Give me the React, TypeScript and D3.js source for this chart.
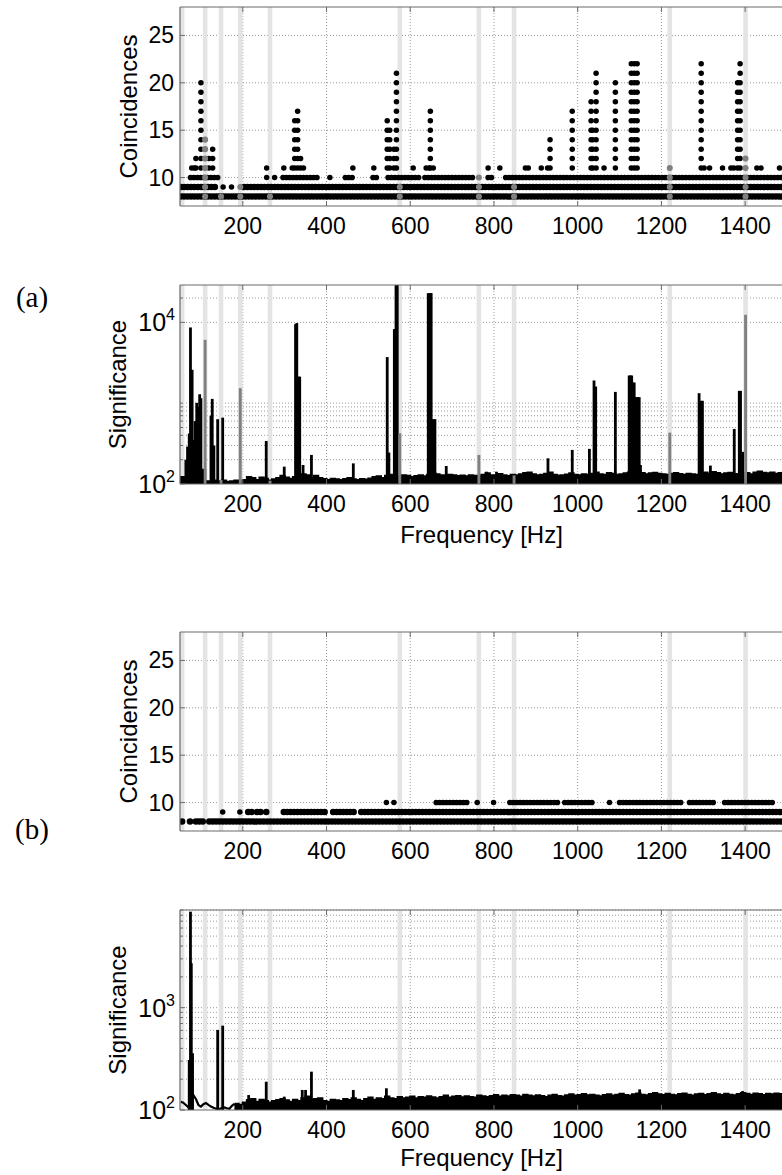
import React from "react";
import * as d3 from "d3";

// ---------------- data ----------------
const freqDomain: [number, number] = [50, 1500];
const freqTicks = [200, 400, 600, 800, 1000, 1200, 1400];
const coincDomain: [number, number] = [7, 28];
const coincTicks = [10, 15, 20, 25];

// known instrumental lines (light grey bands)
const lineFreqs = [55, 110, 148, 194, 265, 575, 764, 848, 1220, 1401];

// panel (a) coincidences: continuous runs [value, fStart, fEnd]
const runsA: [number, number, number][] = [
  [8, 52, 1500], [9, 52, 141], [9, 203, 1500],
  [10, 75, 145], [10, 296, 380], [10, 445, 467], [10, 511, 527], [10, 547, 623],
  [10, 635, 750], [10, 786, 798], [10, 828, 1500],
];
const dotsA: [number, number][] = [[153, 9], [173, 9], [257, 10], [276, 10], [408, 10]];
// columns: [frequency, highest coincidence] (dots from 11 up)
const colsA: [number, number][] = [
  [78, 11], [84, 11], [88, 12], [100, 20], [119, 12], [128, 13], [257, 11], [298, 11],
  [318, 11], [324, 16], [331, 17], [338, 12], [345, 11], [463, 11], [513, 11], [545, 16],
  [551, 15], [561, 13], [567, 21], [607, 11], [638, 11], [645, 11], [648, 17], [655, 11],
  [786, 11], [814, 11], [875, 11], [882, 11], [913, 11], [928, 11], [934, 14], [987, 17],
  [1032, 18], [1036, 15], [1044, 21], [1063, 11], [1090, 20], [1128, 22], [1135, 22],
  [1142, 22], [1295, 22], [1302, 11], [1315, 11], [1346, 11], [1366, 11], [1373, 11],
  [1382, 20], [1388, 22], [1428, 11], [1438, 11], [1482, 11],
];
// grey markers at known lines: [frequency, highest coincidence] (dots from 8 up)
const grayColsA: [number, number][] = [
  [110, 14], [148, 8], [194, 9], [265, 8], [575, 9], [764, 10], [848, 9], [1220, 11], [1401, 12],
];

// panel (b) coincidences
const runsB: [number, number, number][] = [
  [8, 55, 60], [8, 74, 81], [8, 88, 112], [8, 120, 1500],
  [9, 213, 222], [9, 234, 246], [9, 256, 258], [9, 298, 396], [9, 416, 467], [9, 483, 1500],
  [10, 662, 738], [10, 838, 957], [10, 969, 1036], [10, 1100, 1251], [10, 1267, 1331],
  [10, 1351, 1466],
];
const dotsB: [number, number][] = [
  [152, 9], [193, 9], [543, 10], [561, 10], [760, 10], [799, 10], [1076, 10],
];

// significance (a)
const sigAMax = 29000;
const sigAMajor = [100, 10000];
const sigAMinor = [200, 300, 400, 500, 600, 700, 800, 900, 1000, 20000];
const noiseAStart = 50;
const noiseAStep = 10;
const noiseA = [
  122, 114, 130, 160, 180, 150, 108, 106, 110, 108, 110, 106, 108,
  110, 108, 112, 122, 118, 112, 120, 116, 110, 114, 118, 126, 120, 116, 122, 125, 132, 128,
  118, 126, 118, 115, 112, 116, 114, 112, 115, 118, 114, 112, 115, 113, 117, 122, 124, 118,
  126, 130, 124, 120, 128, 126, 122, 125, 128, 124, 130, 135, 132, 128, 126, 130, 128, 125,
  127, 124, 128, 126, 124, 130, 135, 128, 126, 133, 128, 125, 130, 128, 132, 136, 138, 132,
  128, 130, 134, 138, 130, 127, 128, 131, 135, 130, 128, 132, 130, 134, 138, 132, 130, 136,
  134, 130, 132, 135, 138, 140, 142, 136, 132, 135, 137, 134, 132, 130, 134, 136, 133, 130,
  134, 132, 130, 135, 138, 134, 140, 136, 132, 135, 137, 133, 130, 134, 136, 132, 138, 142,
  137, 135, 138, 134, 136, 138, 135,
];
const spikesA: [number, number][] = [
  [64, 200], [68, 290], [72, 420], [75, 8650], [79, 2590], [83, 350], [86, 600], [90, 1010],
  [93, 900], [97, 1290], [100, 1150], [124, 700], [127, 1130], [131, 300], [140, 634],
  [152, 662], [256, 341], [299, 164], [326, 9500], [329, 9800], [333, 2130], [336, 2130],
  [344, 172], [364, 229], [464, 180], [545, 3720], [549, 245], [562, 8260], [566, 40000],
  [569, 40000], [643, 23000], [647, 23000], [650, 23000], [655, 634], [659, 634], [686, 167],
  [782, 142], [806, 142], [929, 208], [987, 264], [1028, 272], [1039, 1910], [1043, 1608],
  [1090, 1380], [1123, 2200], [1126, 2200], [1129, 2200], [1132, 1800], [1135, 1800],
  [1138, 1186], [1141, 1186], [1144, 1186], [1147, 1186], [1150, 172], [1290, 1330],
  [1295, 1070], [1298, 1070], [1317, 169], [1374, 480], [1386, 1420], [1389, 1420],
  [1394, 250], [1434, 142],
];
const graySpikesA: [number, number][] = [
  [110, 6080], [148, 112], [194, 1535], [265, 110], [575, 425], [764, 229], [848, 128],
  [1220, 432], [1401, 12400],
];

// significance (b)
const sigBMax = 9000;
const sigBMajor = [100, 1000];
const sigBMinor = [200, 300, 400, 500, 600, 700, 800, 900, 2000, 3000, 4000, 5000, 6000, 7000, 8000, 9000];
const lowLineB: [number, number][] = [
  [52, 120], [58, 118], [64, 112], [70, 106], [82, 140], [88, 128], [94, 112], [100, 108],
  [106, 114], [112, 117], [118, 112], [124, 108], [130, 105], [136, 103], [144, 102],
  [148, 104], [156, 106], [162, 104], [168, 103], [174, 110], [180, 115],
];
const noiseBStart = 180;
const noiseBStep = 10;
const noiseB = [
  115, 112, 118, 125, 128, 120, 126, 122, 118, 122, 125, 128, 124, 120, 126, 122, 130, 135,
  125, 128, 130, 122, 120, 126, 124, 122, 128, 125, 130, 126, 122, 128, 132, 126, 130, 128,
  135, 130, 128, 134, 130, 132, 135, 130, 134, 132, 136, 133, 130, 134, 138, 132, 135, 137,
  133, 136, 134, 132, 138, 136, 134, 137, 140, 135, 138, 136, 140, 138, 135, 141, 138, 136,
  139, 137, 134, 138, 141, 137, 135, 139, 142, 138, 140, 143, 139, 141, 138, 136, 140, 142,
  138, 141, 144, 140, 138, 142, 145, 141, 139, 143, 146, 142, 140, 144, 141, 139, 143, 145,
  141, 138, 142, 144, 140, 143, 146, 142, 140, 144, 141, 139, 143, 146, 144, 141, 145, 143,
  140, 144, 142, 145, 143, 141, 144,
];
const spikesB: [number, number][] = [
  [72, 308], [75, 8670], [77, 2720], [80, 358], [140, 606], [152, 667], [214, 140],
  [256, 189], [299, 135], [342, 157], [350, 157], [364, 237], [464, 157], [543, 163],
  [1148, 159], [1394, 153],
];

// ---------------- layout ----------------
const W = 782;
const H = 1175;
const X0 = 180;
const X1 = 787;
const FONT = "'Liberation Sans', Arial, Helvetica, sans-serif";
const SERIF = "'Liberation Serif', 'Times New Roman', serif";
const FRAME = "#6a6a6a";
const GRID = "#9a9a9a";
const BAND = "#e4e4e4";
const GREYMARK = "#808080";
const TICKFS = 23;

const xScale = d3.scaleLinear().domain(freqDomain).range([X0, X1]);

function FreqAxis({ top, bottom, showLabel, labelY }: { top: number; bottom: number; showLabel: boolean; labelY: number }) {
  return (
    <g>
      {freqTicks.map((t) => (
        <g key={t}>
          <line x1={xScale(t)} x2={xScale(t)} y1={bottom} y2={bottom - 5} stroke={FRAME} />
          <line x1={xScale(t)} x2={xScale(t)} y1={top} y2={top + 5} stroke={FRAME} />
          <text x={xScale(t)} y={bottom + 28} textAnchor="middle" fontSize={TICKFS} fontFamily={FONT} fill="#000">
            {t}
          </text>
        </g>
      ))}
      {showLabel && (
        <text x={(X0 + X1) / 2 - 2} y={labelY} textAnchor="middle" fontSize={24} fontFamily={FONT} fill="#000">
          Frequency [Hz]
        </text>
      )}
    </g>
  );
}

function Frame({ top, bottom }: { top: number; bottom: number }) {
  return (
    <g fill="none" stroke={FRAME} strokeWidth={1.2}>
      <line x1={X0} x2={X1} y1={top} y2={top} />
      <line x1={X0} x2={X1} y1={bottom} y2={bottom} />
      <line x1={X0} x2={X0} y1={top} y2={bottom} />
      <line x1={X1} x2={X1} y1={top} y2={bottom} />
    </g>
  );
}

function Bands({ top, bottom }: { top: number; bottom: number }) {
  return (
    <g>
      {lineFreqs.map((f) => (
        <rect key={f} x={xScale(f) - 2.3} y={top} width={4.6} height={bottom - top} fill={BAND} />
      ))}
    </g>
  );
}

function VGrid({ top, bottom }: { top: number; bottom: number }) {
  return (
    <g>
      {freqTicks.map((t) => (
        <line key={t} x1={xScale(t)} x2={xScale(t)} y1={top} y2={bottom} stroke={GRID} strokeWidth={1} strokeDasharray="1 2" />
      ))}
    </g>
  );
}

function CoincPanel(props: {
  id: string; top: number; bottom: number;
  runs: [number, number, number][]; dots: [number, number][];
  cols: [number, number][]; grayCols: [number, number][];
}) {
  const { id, top, bottom, runs, dots, cols, grayCols } = props;
  const y = d3.scaleLinear().domain(coincDomain).range([bottom, top]);
  const colDots: [number, number][] = [];
  cols.forEach(([f, m]) => {
    for (let v = 11; v <= m; v++) colDots.push([f, v]);
  });
  const grayDots: [number, number][] = [];
  grayCols.forEach(([f, m]) => {
    for (let v = 8; v <= m; v++) grayDots.push([f, v]);
  });
  const R = 2.75;
  return (
    <g>
      <defs>
        <clipPath id={id}>
          <rect x={X0} y={top} width={X1 - X0} height={bottom - top} />
        </clipPath>
      </defs>
      <VGrid top={top} bottom={bottom} />
      {coincTicks.map((t) => (
        <line key={t} x1={X0} x2={X1} y1={y(t)} y2={y(t)} stroke={GRID} strokeDasharray="1 2" />
      ))}
      <Bands top={top} bottom={bottom} />
      <g clipPath={`url(#${id})`}>
        {runs.map(([v, f0, f1], i) => (
          <line key={i} x1={xScale(f0)} x2={xScale(f1)} y1={y(v)} y2={y(v)} stroke="#000"
            strokeWidth={v <= 9 ? 6.6 : 5.6} strokeLinecap="round" strokeDasharray="0 3.4" />
        ))}
        {dots.map(([f, v], i) => (
          <circle key={"d" + i} cx={xScale(f)} cy={y(v)} r={R} fill="#000" />
        ))}
        {colDots.map(([f, v], i) => (
          <circle key={"c" + i} cx={xScale(f)} cy={y(v)} r={R} fill="#000" />
        ))}
        {grayDots.map(([f, v], i) => (
          <circle key={"g" + i} cx={xScale(f)} cy={y(v)} r={R + 0.3} fill={GREYMARK} />
        ))}
      </g>
      {coincTicks.map((t) => (
        <g key={t}>
          <line x1={X0} x2={X0 + 5} y1={y(t)} y2={y(t)} stroke={FRAME} />
          <text x={174} y={y(t) + 8} textAnchor="end" fontSize={TICKFS} fontFamily={FONT} fill="#000">{t}</text>
        </g>
      ))}
      <Frame top={top} bottom={bottom} />
      <text transform={`translate(137,${(top + bottom) / 2}) rotate(-90)`} textAnchor="middle" fontSize={24} fontFamily={FONT} fill="#000">
        Coincidences
      </text>
    </g>
  );
}

function SigPanel(props: {
  id: string; top: number; bottom: number; yMax: number;
  major: number[]; minor: number[];
  noiseStart: number; noiseStep: number; noise: number[];
  lowLine: [number, number][]; spikes: [number, number][]; graySpikes: [number, number][];
  labelY: number;
}) {
  const { id, top, bottom, yMax, major, minor, noiseStart, noiseStep, noise, lowLine, spikes, graySpikes, labelY } = props;
  const y = d3.scaleLog().domain([100, yMax]).range([bottom, top]);
  const noisePts: [number, number][] = noise.map((v, i) => [noiseStart + i * noiseStep, v]);
  const area = d3.area<[number, number]>()
    .x((d) => xScale(d[0]))
    .y0(bottom)
    .y1((d) => y(d[1]))
    .curve(d3.curveStepAfter);
  const topLine = d3.line<[number, number]>()
    .x((d) => xScale(d[0]))
    .y((d) => y(d[1]))
    .curve(d3.curveStepAfter);
  const line = d3.line<[number, number]>().x((d) => xScale(d[0])).y((d) => y(d[1]));
  return (
    <g>
      <defs>
        <clipPath id={id}>
          <rect x={X0} y={top} width={X1 - X0} height={bottom - top} />
        </clipPath>
      </defs>
      <VGrid top={top} bottom={bottom} />
      {[...major, ...minor].filter((t) => t > 100).map((t) => (
        <line key={t} x1={X0} x2={X1} y1={y(t)} y2={y(t)} stroke={GRID} strokeDasharray="1 2" />
      ))}
      <Bands top={top} bottom={bottom} />
      <g clipPath={`url(#${id})`}>
        {noisePts.length > 0 && <path d={area(noisePts) || ""} fill="#000" />}
        {noisePts.length > 0 && <path d={topLine(noisePts) || ""} fill="none" stroke="#000" strokeWidth={2.2} />}
        {lowLine.length > 0 && <path d={line(lowLine) || ""} fill="none" stroke="#000" strokeWidth={2.2} />}
        {spikes.map(([f, v], i) => (
          <line key={i} x1={xScale(f)} x2={xScale(f)} y1={bottom} y2={y(v)} stroke="#000" strokeWidth={2.8} />
        ))}
        {graySpikes.map(([f, v], i) => (
          <line key={"g" + i} x1={xScale(f)} x2={xScale(f)} y1={bottom} y2={y(v)} stroke={GREYMARK} strokeWidth={2.9} />
        ))}
      </g>
      {major.map((t) => (
        <g key={t}>
          <line x1={X0} x2={X0 + 5} y1={y(t)} y2={y(t)} stroke={FRAME} />
          <text x={175} y={y(t) + 9} textAnchor="end" fontSize={25} fontFamily={FONT} fill="#000">
            <tspan>10</tspan>
            <tspan dy={-11} fontSize={16}>{Math.round(Math.log10(t))}</tspan>
          </text>
        </g>
      ))}
      {minor.map((t) => (
        <line key={"m" + t} x1={X0} x2={X0 + 3} y1={y(t)} y2={y(t)} stroke={FRAME} />
      ))}
      <Frame top={top} bottom={bottom} />
      <text transform={`translate(126,${(top + bottom) / 2}) rotate(-90)`} textAnchor="middle" fontSize={24} fontFamily={FONT} fill="#000">
        Significance
      </text>
      <FreqAxis top={top} bottom={bottom} showLabel={true} labelY={labelY} />
    </g>
  );
}

export default function App() {
  return (
    <svg width={W} height={H} viewBox={`0 0 ${W} ${H}`}
      style={{ position: "absolute", left: 0, top: 0, background: "#fff" }}>
      <rect x={0} y={0} width={W} height={H} fill="#fff" />
      <CoincPanel id="ca" top={7} bottom={206} runs={runsA} dots={dotsA} cols={colsA} grayCols={grayColsA} />
      <FreqAxis top={7} bottom={206} showLabel={false} labelY={0} />
      <SigPanel id="sa" top={285} bottom={484} yMax={sigAMax} major={sigAMajor} minor={sigAMinor}
        noiseStart={noiseAStart} noiseStep={noiseAStep} noise={noiseA} lowLine={[]}
        spikes={spikesA} graySpikes={graySpikesA} labelY={543} />
      <CoincPanel id="cb" top={632} bottom={831} runs={runsB} dots={dotsB} cols={[]} grayCols={[]} />
      <FreqAxis top={632} bottom={831} showLabel={false} labelY={0} />
      <SigPanel id="sb" top={910} bottom={1110} yMax={sigBMax} major={sigBMajor} minor={sigBMinor}
        noiseStart={noiseBStart} noiseStep={noiseBStep} noise={noiseB} lowLine={lowLineB}
        spikes={spikesB} graySpikes={[]} labelY={1166} />
      <text x={32} y={307} textAnchor="middle" fontSize={29} fontFamily={SERIF} fill="#000">(a)</text>
      <text x={32} y={839} textAnchor="middle" fontSize={29} fontFamily={SERIF} fill="#000">(b)</text>
    </svg>
  );
}
